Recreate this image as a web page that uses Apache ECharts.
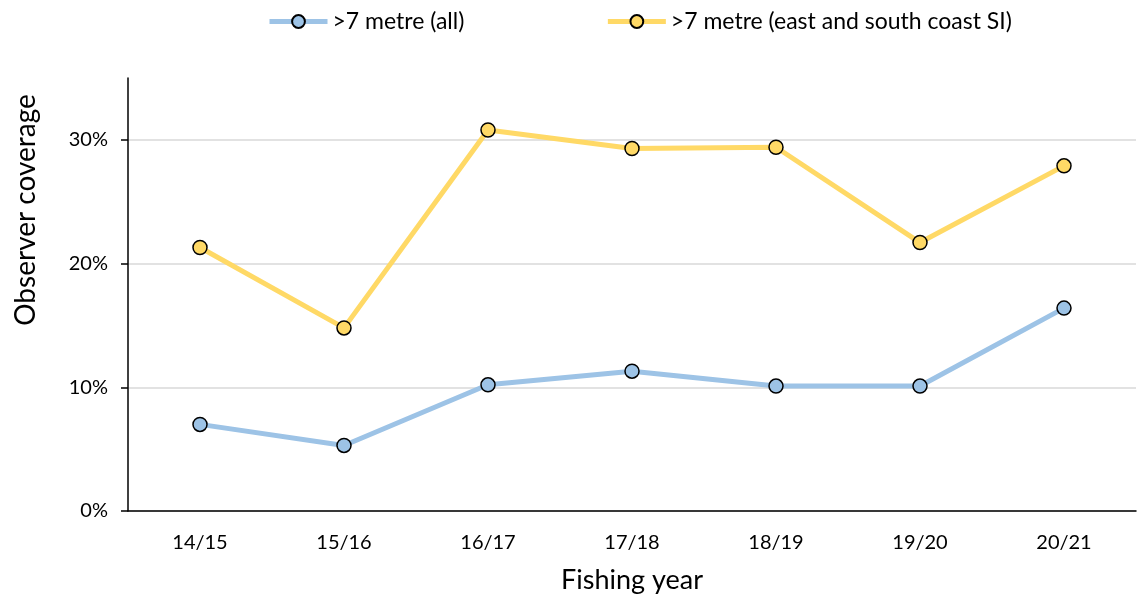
<!DOCTYPE html>
<html><head><meta charset="utf-8">
<script src="https://cdn.jsdelivr.net/npm/echarts@6/dist/echarts.min.js"></script>
<style>html,body{margin:0;padding:0;background:#fff}#c{width:1137px;height:599px}</style>
</head><body><div id="c"></div>
<script>
const categories = ['14/15','15/16','16/17','17/18','18/19','19/20','20/21'];
const allVessels = [7.0, 5.3, 10.2, 11.3, 10.1, 10.1, 16.4];
const eastSouth = [21.3, 14.8, 30.8, 29.3, 29.4, 21.7, 27.9];
const seriesNames = ['>7 metre (all)', '>7 metre (east and south coast SI)'];
const yTicks = [0, 10, 20, 30];

const font = 'Lato, "Open Sans", sans-serif';
const chart = echarts.init(document.getElementById('c'), null, {renderer:'canvas'});
const mk = (name, data, color) => ({
  name, type:'line', data,
  symbol:'circle', symbolSize:14,
  lineStyle:{color, width:5},
  itemStyle:{color, borderColor:'#000', borderWidth:1.5},
  emphasis:{disabled:true}
});
chart.setOption({
  animation:false,
  textStyle:{fontFamily:font},
  legend:{
    top:5, left:262, itemGap:141, itemWidth:58, itemHeight:16,
    lineStyle:{width:5},
    textStyle:{fontFamily:font, fontSize:23, color:'#000'},
    data:seriesNames
  },
  grid:{left:128, right:1, top:78, bottom:88},
  xAxis:{
    type:'category', data:categories, boundaryGap:true,
    axisLine:{lineStyle:{color:'#000', width:1.5}},
    axisTick:{show:false},
    axisLabel:{fontFamily:font, fontSize:20, color:'#000', margin:22},
    name:'Fishing year', nameLocation:'middle', nameGap:56,
    nameTextStyle:{fontFamily:font, fontSize:27, color:'#000'}
  },
  yAxis:{
    type:'value', min:0, max:35, interval:10,
    axisLine:{show:true, lineStyle:{color:'#000', width:1.5}},
    axisTick:{show:true, length:7, lineStyle:{color:'#000', width:1.5},
      customValues:yTicks},
    axisLabel:{fontFamily:font, fontSize:20, color:'#000', margin:20,
      customValues:yTicks, formatter:v=>v+'%'},
    splitLine:{lineStyle:{color:'#d9d9d9', width:1.5}}
  },
  graphic:[{
    type:'text', x:26, y:210, rotation:Math.PI/2,
    style:{text:'Observer coverage', font:'28px Lato, "Open Sans", sans-serif',
      fill:'#000', align:'center', verticalAlign:'middle'}
  }],
  series:[
    mk(seriesNames[0], allVessels, '#9dc3e6'),
    mk(seriesNames[1], eastSouth, '#ffd966')
  ]
});
</script></body></html>
